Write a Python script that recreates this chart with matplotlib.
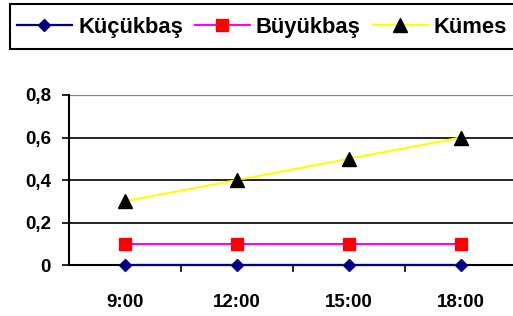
import matplotlib
matplotlib.use("Agg")
import matplotlib.pyplot as plt
from matplotlib.patches import Rectangle

categories = ["9:00", "12:00", "15:00", "18:00"]
kucukbas = [0, 0, 0, 0]
buyukbas = [0.1, 0.1, 0.1, 0.1]
kumes = [0.3, 0.4, 0.5, 0.6]
series_names = ["Küçükbaş", "Büyükbaş", "Kümes"]
yticks = [0, 0.2, 0.4, 0.6, 0.8]
ytick_labels = ["0", "0,2", "0,4", "0,6", "0,8"]

plt.rcParams['font.family'] = ['Liberation Sans', 'DejaVu Sans']
plt.rcParams['font.weight'] = 'bold'

W, H = 513, 316
fig = plt.figure(figsize=(W / 100, H / 100), dpi=100)
x0, x1 = 69, 517
ytop, ybot = 95, 265
ax = fig.add_axes([x0 / W, 1 - ybot / H, (x1 - x0) / W, (ybot - ytop) / H])

x = list(range(len(categories)))
l1, = ax.plot(x, kucukbas, color='#000080', lw=1.6, marker='D', markersize=6.5,
              markerfacecolor='#000080', markeredgecolor='#000080', zorder=5, clip_on=False)
l2, = ax.plot(x, buyukbas, color='#FF00FF', lw=1.5, marker='s', markersize=8,
              markerfacecolor='#FF0000', markeredgecolor='#FF0000', zorder=4)
l3, = ax.plot(x, kumes, color='#FFFF00', lw=1.5, marker='^', markersize=9.5,
              markerfacecolor='black', markeredgecolor='black', zorder=4)

ax.set_xlim(-0.5, 3.5)
ax.set_ylim(0, 0.8)
ax.set_yticks(yticks)
ax.set_yticklabels(ytick_labels, fontsize=13.5, fontweight='bold')
ax.set_xticks(x)
ax.set_xticklabels(categories, fontsize=13.5, fontweight='bold')
ax.set_xticks([0.5, 1.5, 2.5], minor=True)
ax.tick_params(axis='x', which='major', length=0, pad=21)
ax.tick_params(axis='x', which='minor', length=5, width=1.2, direction='out', color='black')
ax.tick_params(axis='y', length=5, width=1.2, direction='out', pad=8)

for v in [0.2, 0.4, 0.6]:
    ax.axhline(v, color='black', lw=1.2, zorder=1)
ax.axhline(0.8, color='#808080', lw=1.6, zorder=1)

for s in ['top', 'right']:
    ax.spines[s].set_visible(False)
ax.spines['left'].set_linewidth(1.5)
ax.spines['bottom'].set_linewidth(1.5)

# legend frame (extends past the right edge as in the reference)
fig.patches.append(Rectangle((9.5 / W, 1 - 49 / H), (530 - 9.5) / W, 45 / H,
                             transform=fig.transFigure, facecolor='white',
                             edgecolor='black', lw=1.5, zorder=0))

leg = fig.legend([l1, l2, l3], series_names, loc='center left',
                 bbox_to_anchor=(17 / W, 1 - 27.5 / H), ncol=3,
                 prop={'size': 15.8, 'weight': 'bold'},
                 frameon=False,
                 handlelength=2.5, handletextpad=0.28, columnspacing=0.55,
                 borderpad=0, borderaxespad=0)

fig.savefig("out.png", dpi=100)
